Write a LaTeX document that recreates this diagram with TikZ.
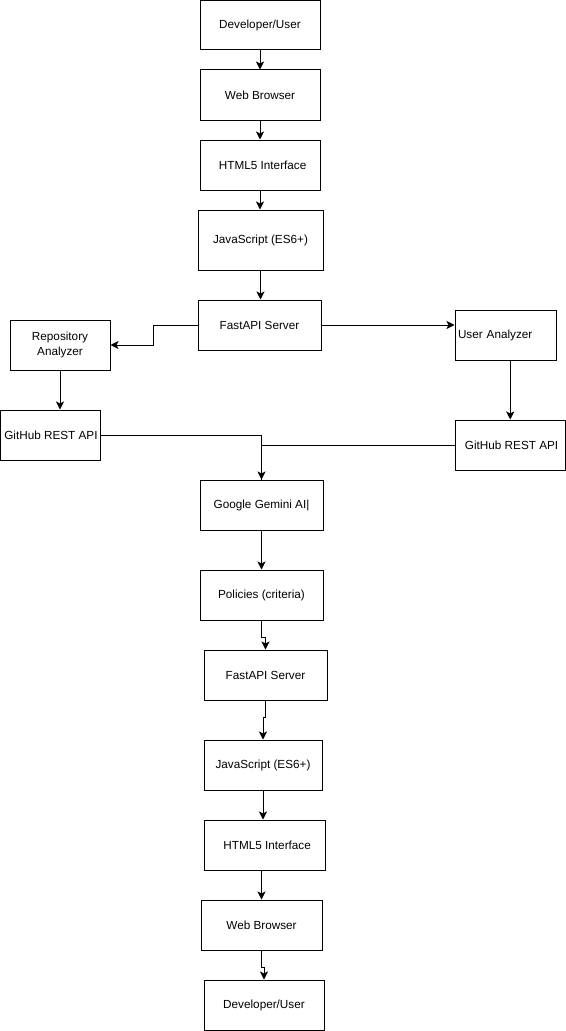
\documentclass[tikz,border=0pt]{standalone}
\usepackage{fontspec}
\setmainfont{Liberation Sans}
\usetikzlibrary{arrows.meta}
\tikzset{
  box/.style={draw=black, line width=0.75pt, rectangle, inner sep=0pt, align=center,
    font=\fontsize{8.8pt}{10.6pt}\selectfont},
  arr/.style={draw=black, line width=0.75pt, -{Stealth[length=6pt,width=6pt,inset=1.5pt]}},
  ln/.style={draw=black, line width=0.75pt}
}
\newcommand\mkbox[6]{%
  \node[box, minimum width={(#4-#2)*0.75pt}, minimum height={(#5-#3)*0.75pt}]
    (#1) at ({(#2+#4)/2},{(#3+#5)/2}) {#6};}
\begin{document}
\begin{tikzpicture}[x=0.75pt,y=-0.75pt]
\useasboundingbox (0,0) rectangle (566,1031);
\mkbox{du1}{200}{0.5}{320}{50}{Developer/User}
\mkbox{wb1}{200}{70}{320}{120}{Web Browser}
\mkbox{ht1}{200}{140}{320}{190}{\hspace*{4pt}HTML5 Interface}
\mkbox{js1}{198}{210}{323}{270}{JavaScript (ES6+)}
\mkbox{fa1}{198}{300}{321}{350}{FastAPI Server}
\mkbox{repo}{10}{320}{110}{370}{Repository\\Analyzer}
\node[box, minimum height={50*0.75pt}, text width={95*0.75pt}, inner xsep={3*0.75pt}, align=left]
  (ua) at (505.5,335) {User Analyzer};
\mkbox{gh1}{0.5}{410}{100}{460}{\hspace*{1pt}GitHub REST API}
\mkbox{gh2}{455}{420}{565.5}{470}{\hspace*{2pt}GitHub REST API}
\mkbox{gem}{200}{480}{323}{530}{Google Gemini AI|}
\mkbox{pol}{200}{570}{323}{620}{Policies (criteria)}
\mkbox{fa2}{204}{650}{327}{700}{FastAPI Server}
\mkbox{js2}{204}{740}{322}{790}{JavaScript (ES6+)}
\mkbox{ht2}{204}{820}{325}{870}{\hspace*{4pt}HTML5 Interface}
\mkbox{wb2}{201}{900}{322}{950}{Web Browser}
\mkbox{du2}{204}{980}{324}{1030}{Developer/User}

\draw[arr] (du1.south) -- (wb1.north);
\draw[arr] (wb1.south) -- (ht1.north);
\draw[arr] (ht1.south) -- (ht1.south |- js1.north);
\draw[arr] (js1.south) -- (js1.south |- fa1.north);
\draw[arr] (fa1.west) -- ++(-44,0) |- (repo.east);
\draw[arr] (fa1.east) -- (fa1.east -| ua.west);
\draw[arr] (repo.south) -- (repo.south |- gh1.north);
\draw[arr] (gh2.north |- ua.south) -- (gh2.north);
\draw[arr] (gh1.east) -| (gem.north);
\draw[ln] (gh2.west) -| (gem.north);
\draw[arr] (gem.south) -- (gem.south |- pol.north);
\draw[arr] (pol.south) -- ++(0,17) -| (fa2.north);
\draw[arr] (fa2.south) -- ++(0,17) -| (js2.north);
\draw[arr] (js2.south) -- (js2.south |- ht2.north);
\draw[arr] (wb2.north |- ht2.south) -- (wb2.north);
\draw[arr] (wb2.south) -- ++(0,17) -| (du2.north);
\end{tikzpicture}
\end{document}
